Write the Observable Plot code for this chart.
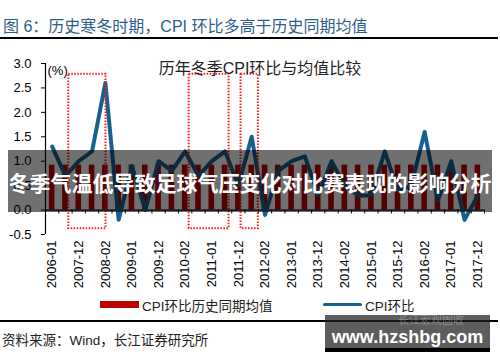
<!DOCTYPE html>
<html>
<head>
<meta charset="utf-8">
<script src="https://cdn.jsdelivr.net/npm/d3@7"></script>
<script src="https://cdn.jsdelivr.net/npm/@observablehq/plot@0.6"></script>
<style>
  html, body { margin: 0; padding: 0; background: #fff; }
  #wrap { position: relative; width: 500px; height: 362px; overflow: hidden; font-family: "Liberation Sans", Arial, "Noto Sans CJK SC", sans-serif; }
  .abs { position: absolute; white-space: nowrap; }
</style>
</head>
<body>
<div id="wrap">
  <div class="abs" style="left:3px; top:13px; font-size:16px; color:#2f5d8a; font-family:'Liberation Sans','Noto Sans CJK SC',sans-serif;">图 6：历史寒冬时期，CPI 环比多高于历史同期均值</div>
  <div class="abs" style="left:0; top:37px; width:498px; height:1.5px; background:#000;"></div>
  <div id="chart" class="abs" style="left:0; top:40px;"></div>
  <div id="legend"></div>
  <div class="abs" style="left:0; top:320px; width:498px; height:1.5px; background:#000;"></div>
  <div class="abs" style="left:2px; top:329px; font-size:13.5px; color:#222;">资料来源：Wind，长江证券研究所</div>
  <!-- overlays -->
  <div class="abs" style="left:8px; top:150px; width:484px; height:62px; background:rgba(0,0,0,0.56);"></div>
  <div class="abs" style="left:8px; top:167px; width:484px; text-align:center; color:#fff; font-weight:bold; font-size:21px; font-family:'Noto Sans CJK SC',sans-serif;">冬季气温低导致足球气压变化对比赛表现的影响分析</div>
  <div class="abs" style="left:325px; top:315px; width:165px; height:33px; background:rgba(30,30,30,0.72);"></div>
  <div class="abs" style="left:325px; top:348px; width:165px; height:4px; background:#000;"></div>
  <div class="abs" style="left:398px; top:313px; font-size:11px; line-height:13px; color:rgba(255,255,255,0.3); font-family:'Noto Sans CJK SC',sans-serif;">长江宏观固收</div>
  <div class="abs" style="left:325px; top:327px; width:165px; text-align:center; color:#fff; font-weight:bold; font-size:18px; line-height:20px;">www.hzshbg.com</div>
</div>
<script>
// Categories (winter months)
const categories = [
  "2006-01","2006-02","2007-12","2008-01","2008-02","2008-12","2009-01","2009-02",
  "2009-12","2010-01","2010-02","2010-12","2011-01","2011-02","2011-12","2012-01",
  "2012-02","2012-12","2013-01","2013-02","2013-12","2014-01","2014-02","2014-12",
  "2015-01","2015-02","2015-12","2016-01","2016-02","2016-12","2017-01","2017-02","2017-12"
];
// CPI month-on-month (%)
const cpiMoM = [
  1.3, 0.7, 1.0, 1.2, 2.6, -0.2, 0.9, 0.0,
  1.0, 0.8, 1.2, 0.7, 1.0, 1.2, 0.5, 1.5,
  -0.1, 0.8, 1.0, 1.1, 0.3, 1.0, 0.5, 0.3,
  0.3, 1.2, 0.4, 0.5, 1.6, 0.2, 1.0, -0.2, 0.3
];
// Historical same-period average (%)
const histAvg = [
  0.92, 0.92, 0.92, 0.92, 0.92, 0.92, 0.92, 0.92,
  0.92, 0.92, 0.92, 0.92, 0.92, 0.92, 0.92, 0.92,
  0.92, 0.92, 0.92, 0.92, 0.92, 0.92, 0.92, 0.92,
  0.92, 0.92, 0.92, 0.92, 0.92, 0.92, 0.92, 0.92, 0.92
];
const yTicks = [-0.5, 0.0, 0.5, 1.0, 1.5, 2.0, 2.5, 3.0];
// Highlight boxes (category index span, value span)
const boxStart = [1.25, 10.3, 14.2];
const boxEnd = [4.05, 13.3, 15.5];
const boxTop = [2.78, 2.78, 2.78];
const boxBottom = [-0.38, -0.38, -0.38];
const legendLabels = ["CPI环比历史同期均值", "CPI环比"];

const rows = categories.map((c, i) => ({i, c, cpi: cpiMoM[i], avg: histAvg[i]}));
const boxes = boxStart.map((s, k) => ({x1: s, x2: boxEnd[k], y1: boxBottom[k], y2: boxTop[k]}));
const boundaries = d3.range(categories.length + 1).map(k => k - 0.5);
const labelIdx = d3.range(0, categories.length, 2);

const font = "'Liberation Sans', Arial, 'Noto Sans CJK SC', sans-serif";

const chart = Plot.plot({
  width: 500,
  height: 258,
  marginLeft: 45,
  marginRight: 16,
  marginTop: 23,
  marginBottom: 64,
  style: {fontFamily: font, fontSize: "13px", color: "#000", background: "transparent", overflow: "visible"},
  x: {type: "linear", domain: [-0.5, categories.length - 0.5]},
  y: {domain: [-0.5, 3.0]},
  marks: [
    Plot.rectY(rows, {x1: d => d.i - 0.21, x2: d => d.i + 0.21, y1: 0, y2: "avg", fill: "#c00000"}),
    Plot.ruleY([0], {stroke: "#000", strokeWidth: 1.2}),
    Plot.ruleX(boundaries, {x: d => d, y1: 0, y2: -0.08, stroke: "#000"}),
    Plot.ruleX([-0.5], {y1: -0.5, y2: 3.0, stroke: "#000", strokeWidth: 1.2}),
    Plot.line(rows, {x: "i", y: "cpi", stroke: "#16618f", strokeWidth: 4, strokeLinejoin: "round"}),
    Plot.rect(boxes, {x1: "x1", x2: "x2", y1: "y1", y2: "y2", fill: "none", stroke: "#ff1a1a", strokeWidth: 2, strokeDasharray: "1.5,1.5"}),
    Plot.axisY({ticks: yTicks, tickSize: 4, tickPadding: 10, tickFormat: d => d.toFixed(1), fontSize: 13}),
    Plot.axisX({ticks: labelIdx, tickFormat: i => categories[i], tickRotate: -90, tickSize: 0, tickPadding: 6, fontSize: 13}),
    Plot.text(["(%)"], {frameAnchor: "top-left", dx: 2, dy: 2, fontSize: 13, textAnchor: "start"}),
    Plot.text(["历年冬季CPI环比与均值比较"], {frameAnchor: "top", dx: -5, dy: -1, fontSize: 16, fill: "#222"})
  ]
});
document.getElementById("chart").appendChild(chart);

// Legend
const wrap = document.getElementById("wrap");
const legendItems = [
  {label: legendLabels[0], swatch: "rect", color: "#c00000", sx: 100, tx: 142},
  {label: legendLabels[1], swatch: "line", color: "#16618f", sx: 323, tx: 365}
];
legendItems.forEach(it => {
  const s = document.createElement("div");
  s.className = "abs";
  s.style.left = it.sx + "px";
  s.style.width = "39px";
  if (it.swatch === "rect") { s.style.top = "301px"; s.style.height = "7px"; }
  else { s.style.top = "302.5px"; s.style.height = "3.5px"; s.style.borderRadius = "2px"; }
  s.style.background = it.color;
  wrap.appendChild(s);
  const t = document.createElement("div");
  t.className = "abs";
  t.style.left = it.tx + "px";
  t.style.top = "295px";
  t.style.fontSize = "13.5px";
  t.style.color = "#222";
  t.textContent = it.label;
  wrap.appendChild(t);
});
</script>
</body>
</html>
